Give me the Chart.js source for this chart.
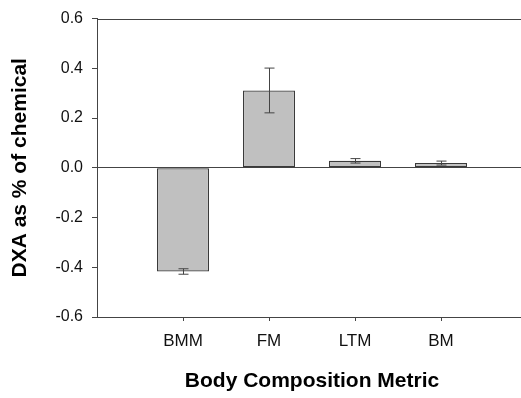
<!DOCTYPE html>
<html>
<head>
<meta charset="utf-8">
<script src="https://cdn.jsdelivr.net/npm/chart.js@4/dist/chart.umd.min.js"></script>
<style>
  html, body { margin: 0; padding: 0; background: #fff; overflow: hidden; }
  #wrap { width: 521px; height: 398px; overflow: hidden; }
</style>
</head>
<body>
<div id="wrap"><canvas id="bar" width="540" height="398"></canvas></div>
<script>
const categories = ["BMM", "FM", "LTM", "BM"];
const meanDiff = [-0.417, 0.311, 0.028, 0.019];
const errDiff = [0.011, 0.090, 0.009, 0.008];
const yTicks = [-0.6, -0.4, -0.2, 0.0, 0.2, 0.4, 0.6];

const axisColor = "#444";
const fontFamily = "'Liberation Sans', Arial, sans-serif";

// error bars with small caps, drawn on top of the bars
const errorBars = {
    id: "errorBars",
    afterDatasetsDraw(chart) {
        const { ctx, scales: { x, y } } = chart;
        ctx.save();
        ctx.strokeStyle = axisColor;
        ctx.lineWidth = 1;
        meanDiff.forEach((m, i) => {
            const px = Math.round(x.getPixelForValue(i)) + 0.5;
            const top = y.getPixelForValue(m + errDiff[i]);
            const bot = y.getPixelForValue(m - errDiff[i]);
            ctx.beginPath();
            ctx.moveTo(px, top);
            ctx.lineTo(px, bot);
            ctx.moveTo(px - 5, top);
            ctx.lineTo(px + 5, top);
            ctx.moveTo(px - 5, bot);
            ctx.lineTo(px + 5, bot);
            ctx.stroke();
        });
        ctx.restore();
    }
};

// top edge of the plot frame
const topFrame = {
    id: "topFrame",
    afterDraw(chart) {
        const { ctx, chartArea } = chart;
        const yy = Math.round(chartArea.top) + 0.5;
        ctx.save();
        ctx.strokeStyle = axisColor;
        ctx.lineWidth = 1;
        ctx.beginPath();
        ctx.moveTo(chartArea.left, yy);
        ctx.lineTo(chartArea.right, yy);
        ctx.stroke();
        ctx.restore();
    }
};

const ctx = document.getElementById("bar").getContext("2d");
new Chart(ctx, {
    type: "bar",
    data: {
        datasets: [{
            data: meanDiff.map((v, i) => ({ x: i, y: v })),
            backgroundColor: "#c0c0c0",
            borderColor: "#3a3a3a",
            borderWidth: 1.2,
            borderSkipped: false,
            barPercentage: 0.605,
            categoryPercentage: 1
        }]
    },
    options: {
        responsive: false,
        animation: false,
        layout: { padding: { top: 16, right: 13, left: 0, bottom: 0 } },
        plugins: {
            legend: { display: false },
            tooltip: { enabled: false }
        },
        scales: {
            x: {
                type: "linear",
                min: -1,
                max: 4,
                offset: false,
                afterBuildTicks: (scale) => {
                    scale.ticks = categories.map((c, i) => ({ value: i }));
                },
                afterFit: (scale) => { scale.height = 81; },
                ticks: {
                    callback: (v) => categories[v],
                    color: "#111",
                    font: { family: fontFamily, size: 17 },
                    padding: 10,
                    maxRotation: 0
                },
                grid: {
                    offset: false,
                    drawOnChartArea: false,
                    tickLength: 4,
                    color: axisColor
                },
                border: { color: axisColor, width: 1 },
                title: {
                    display: true,
                    text: "Body Composition Metric",
                    color: "#000",
                    font: { family: fontFamily, size: 21, weight: "bold" },
                    padding: { top: 0, bottom: 4 }
                }
            },
            y: {
                min: -0.6,
                max: 0.6,
                afterBuildTicks: (scale) => {
                    scale.ticks = yTicks.map(v => ({ value: v }));
                },
                afterFit: (scale) => { scale.width = 97; },
                ticks: {
                    callback: (v) => (Math.abs(v) < 1e-9 ? 0 : v).toFixed(1),
                    color: "#111",
                    font: { family: fontFamily, size: 16 },
                    padding: 9
                },
                grid: {
                    tickLength: 5,
                    tickColor: axisColor,
                    color: (c) => (c.tick && Math.abs(c.tick.value) < 1e-9 ? axisColor : "rgba(0,0,0,0)")
                },
                border: { color: axisColor, width: 1 },
                title: {
                    display: true,
                    text: "DXA as % of chemical",
                    color: "#000",
                    font: { family: fontFamily, size: 21, weight: "bold" },
                    padding: { top: 8, bottom: 0 }
                }
            }
        }
    },
    plugins: [errorBars, topFrame]
});
</script>
</body>
</html>
